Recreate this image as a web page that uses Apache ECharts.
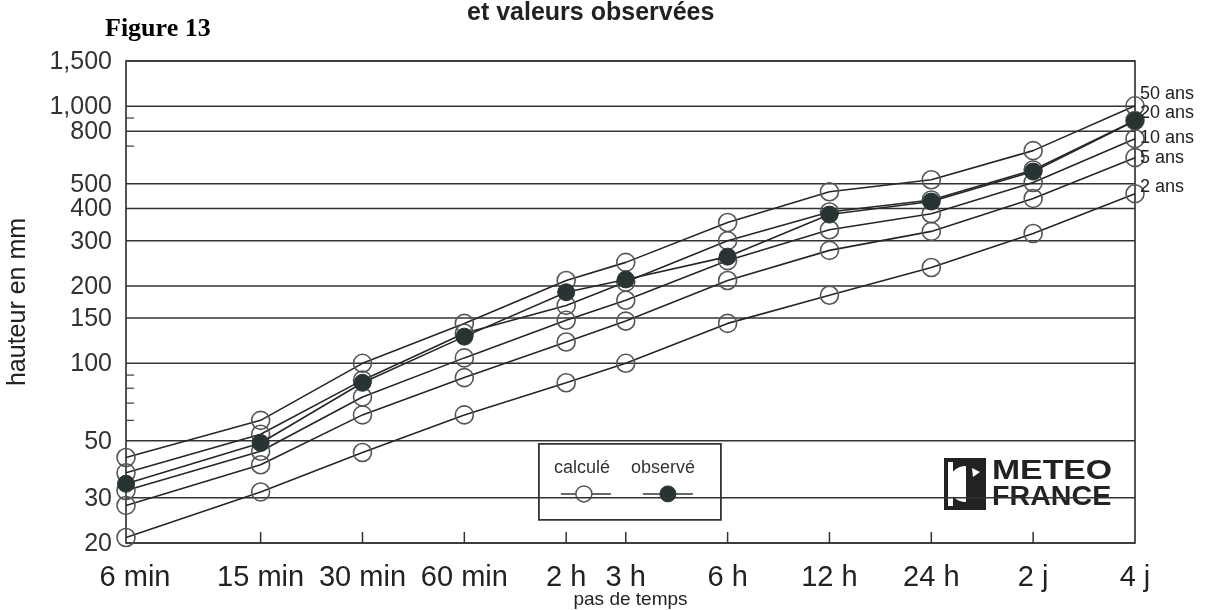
<!DOCTYPE html>
<html>
<head>
<meta charset="utf-8">
<script src="https://cdn.jsdelivr.net/npm/echarts@6/dist/echarts.min.js"></script>
<style>
html,body{margin:0;padding:0;background:#fff;}
#chart{width:1206px;height:610px;}
</style>
</head>
<body>
<div id="chart"></div>
<script>
// ---- data ----
const steps = [6, 15, 30, 60, 120, 180, 360, 720, 1440, 2880, 5760]; // minutes
const stepLabels = ['6 min', '15 min', '30 min', '60 min', '2 h', '3 h', '6 h', '12 h', '24 h', '2 j', '4 j'];
const yTickValues = [20, 30, 50, 100, 150, 200, 300, 400, 500, 800, 1000, 1500];
const yTickLabels = ['20', '30', '50', '100', '150', '200', '300', '400', '500', '800', '1,000', '1,500'];
const yMinorTicks = [60, 70, 80, 90, 700, 900];

const ans2  = [21, 31.6, 45, 63, 84, 100, 143, 184, 236, 320, 457];
const ans5  = [28, 40.3, 63, 88, 121, 146, 210, 275, 326, 438, 631];
const ans10 = [32, 45.5, 74, 105, 147, 176, 251, 331, 382, 505, 748];
const ans20 = [37.5, 53, 86, 131, 168, 207, 300, 388, 432, 565, 880];
const ans50 = [43, 60, 100, 143, 210, 247, 353, 465, 518, 672, 1004];
const observed = [34, 49, 84, 127, 189, 212, 260, 379, 426, 557, 879];

const computedNames = ['2 ans', '5 ans', '10 ans', '20 ans', '50 ans'];
const computedValues = [ans2, ans5, ans10, ans20, ans50];
const endLabelOffsets = [[0, -7], [0, 0], [0, -1], [0, -8], [0, -12]];

// ---- chart ----
const chart = echarts.init(document.getElementById('chart'), null, {renderer: 'canvas'});
const LINE = '#262626';
const FONT = '"Liberation Sans", Arial, sans-serif';
const yMin = yTickValues[0], yMax = yTickValues[yTickValues.length - 1];
const xMin = steps[0], xMax = steps[steps.length - 1];

const toPairs = vals => vals.map((v, i) => [steps[i], v]);

const series = [];
computedValues.forEach((vals, k) => {
  series.push({
    name: computedNames[k],
    type: 'line',
    data: toPairs(vals),
    symbol: 'circle',
    symbolSize: 18,
    lineStyle: {color: LINE, width: 1.6},
    itemStyle: {color: 'rgba(255,255,255,0)', borderColor: '#555', borderWidth: 1.6},
    endLabel: {
      show: true,
      formatter: computedNames[k],
      fontFamily: FONT,
      fontSize: 18,
      color: '#222',
      distance: 5,
      offset: endLabelOffsets[k]
    },
    emphasis: {disabled: true},
    silent: true,
    animation: false,
    z: 3
  });
});
series.push({
  name: 'observé',
  type: 'line',
  data: toPairs(observed),
  symbol: 'circle',
  symbolSize: 17,
  lineStyle: {color: LINE, width: 1.6},
  itemStyle: {color: '#283434', borderColor: '#283434', borderWidth: 1},
  emphasis: {disabled: true},
  silent: true,
  animation: false,
  z: 4
});

// horizontal grid lines + y labels
series.push({
  type: 'custom',
  silent: true,
  animation: false,
  z: 1,
  data: yTickValues.map(v => [xMin, v]),
  renderItem: function (params, api) {
    const v = api.value(1);
    const p0 = api.coord([xMin, v]);
    const p1 = api.coord([xMax, v]);
    return {
      type: 'group',
      children: [
        {type: 'line', shape: {x1: p0[0], y1: p0[1], x2: p1[0], y2: p1[1]}, style: {stroke: '#333', lineWidth: 1.5}},
        {type: 'text', x: p0[0] - 14, y: p0[1] + 1, style: {text: yTickLabels[params.dataIndex], font: '25px ' + FONT, fill: '#333', textAlign: 'right', align: 'right', textVerticalAlign: 'middle', verticalAlign: 'middle'}}
      ]
    };
  }
});
// minor y ticks
series.push({
  type: 'custom',
  silent: true,
  animation: false,
  z: 1,
  data: yMinorTicks.map(v => [xMin, v]),
  renderItem: function (params, api) {
    const p = api.coord([xMin, api.value(1)]);
    return {type: 'line', shape: {x1: p[0], y1: p[1], x2: p[0] + 8, y2: p[1]}, style: {stroke: '#3a3a3a', lineWidth: 1.2}};
  }
});
// x ticks + labels
series.push({
  type: 'custom',
  silent: true,
  animation: false,
  z: 1,
  data: steps.map(s => [s, yMin]),
  renderItem: function (params, api) {
    const p = api.coord([api.value(0), yMin]);
    const i = params.dataIndex;
    const children = [];
    if (i > 0 && i < steps.length - 1) {
      children.push({type: 'line', shape: {x1: p[0], y1: p[1], x2: p[0], y2: p[1] - 11}, style: {stroke: '#333', lineWidth: 1.5}});
    }
    children.push({type: 'text', x: p[0] + (i === 0 ? 9 : 0), y: p[1] + 35, style: {text: stepLabels[i], font: '29px ' + FONT, fill: '#222', textAlign: 'center', align: 'center', textVerticalAlign: 'middle', verticalAlign: 'middle'}});
    return {type: 'group', children: children};
  }
});

const option = {
  backgroundColor: '#fff',
  animation: false,
  grid: {left: 126, right: 71, top: 61, bottom: 67, outerBoundsMode: 'none', containLabel: false, show: true, borderColor: '#2a2a2a', borderWidth: 1.6, backgroundColor: 'rgba(0,0,0,0)'},
  xAxis: {
    type: 'log', logBase: 10, min: xMin, max: xMax,
    axisLine: {show: false}, axisTick: {show: false}, axisLabel: {show: false}, splitLine: {show: false},
    name: 'pas de temps', nameLocation: 'middle', nameGap: 47,
    nameTextStyle: {fontFamily: FONT, fontSize: 19, color: '#222'}
  },
  yAxis: {
    type: 'log', logBase: 10, min: yMin, max: yMax,
    axisLine: {show: false}, axisTick: {show: false}, axisLabel: {show: false}, splitLine: {show: false},
    name: 'hauteur en mm', nameLocation: 'middle', nameGap: 95, nameRotate: 90,
    nameTextStyle: {fontFamily: FONT, fontSize: 25, color: '#222'}
  },
  graphic: [
    {type: 'text', left: 105, top: 16, style: {text: 'Figure 13', font: 'bold 26px "Liberation Serif", "Times New Roman", serif', fill: '#000'}},
    {type: 'text', left: 467, top: 1, style: {text: 'et valeurs observées', font: 'bold 25px ' + FONT, fill: '#222'}},
    // legend box
    {type: 'group', left: 538, top: 443, children: [
      {type: 'rect', shape: {x: 0, y: 0, width: 182, height: 76}, style: {fill: '#fff', stroke: '#333', lineWidth: 1.8}},
      {type: 'text', x: 15, y: 24, style: {text: 'calculé', font: '18px ' + FONT, fill: '#333', textVerticalAlign: 'middle', verticalAlign: 'middle'}},
      {type: 'text', x: 92, y: 24, style: {text: 'observé', font: '18px ' + FONT, fill: '#333', textVerticalAlign: 'middle', verticalAlign: 'middle'}},
      {type: 'line', shape: {x1: 22, y1: 50, x2: 72, y2: 50}, style: {stroke: '#333', lineWidth: 1.5}},
      {type: 'circle', shape: {cx: 45, cy: 50, r: 8}, style: {fill: '#fff', stroke: '#555', lineWidth: 1.5}},
      {type: 'line', shape: {x1: 104, y1: 50, x2: 154, y2: 50}, style: {stroke: '#333', lineWidth: 1.5}},
      {type: 'circle', shape: {cx: 129, cy: 50, r: 8}, style: {fill: '#283434', stroke: '#283434', lineWidth: 1}}
    ]},
    // Météo-France logo
    {type: 'group', left: 942, top: 456, children: [
      {type: 'rect', shape: {x: 0, y: 0, width: 188, height: 56}, style: {fill: '#fff'}},
      {type: 'rect', shape: {x: 3, y: 3, width: 40, height: 50}, style: {fill: '#222', stroke: '#222', lineWidth: 2}},
      {type: 'rect', shape: {x: 6, y: 6, width: 5, height: 44}, style: {fill: '#fff'}},
      {type: 'sector', shape: {cx: 24, cy: 28, r0: 0, r: 18, startAngle: Math.PI / 2, endAngle: Math.PI * 1.5}, style: {fill: '#fff'}},
      {type: 'polygon', shape: {points: [[30, 12], [38, 16], [31, 21]]}, style: {fill: '#fff'}},
      {type: 'text', x: 50, y: 16, scaleX: 1.25, style: {text: 'METEO', font: 'bold 27px ' + FONT, fill: '#222', textVerticalAlign: 'middle', verticalAlign: 'middle'}},
      {type: 'text', x: 50, y: 42, scaleX: 1.06, style: {text: 'FRANCE', font: 'bold 27px ' + FONT, fill: '#222', textVerticalAlign: 'middle', verticalAlign: 'middle'}}
    ]}
  ],
  series: series
};
chart.setOption(option);
</script>
</body>
</html>
